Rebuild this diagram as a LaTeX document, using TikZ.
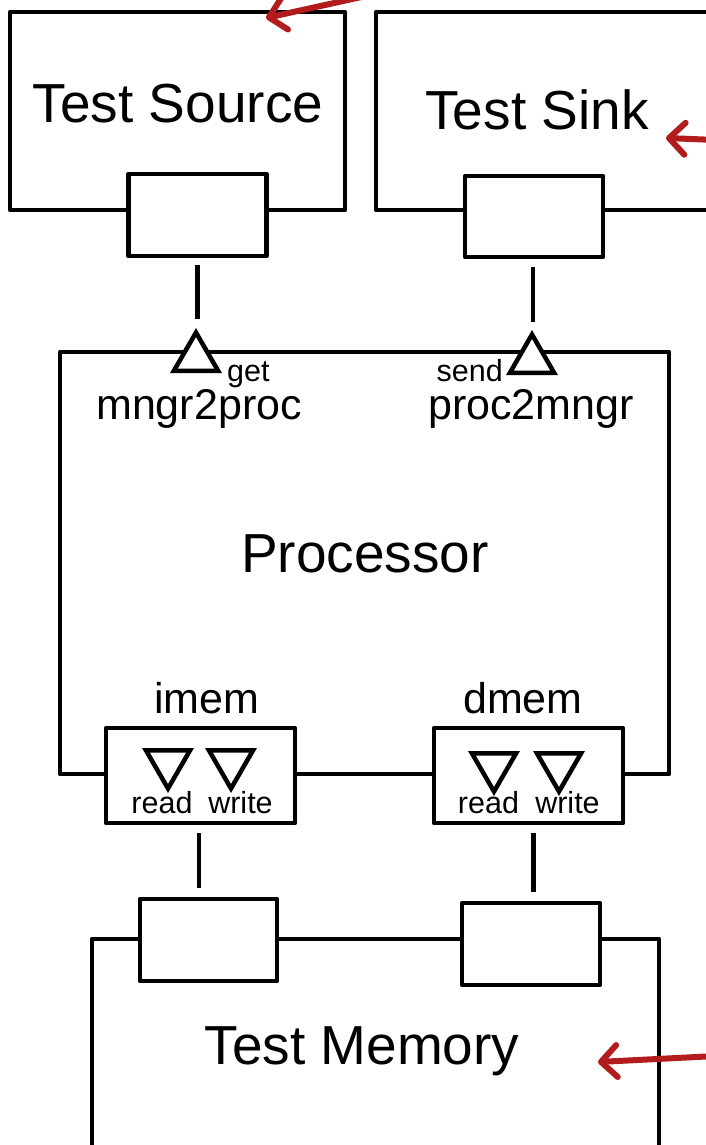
\documentclass[tikz,border=0pt]{standalone}
\usepackage{fontspec}
\setmainfont{Liberation Sans}
\usetikzlibrary{shapes.geometric,arrows.meta}
\definecolor{annot}{RGB}{178,28,28}
\begin{document}
\begin{tikzpicture}[x=1pt,y=-1pt,
  blk/.style={draw=black,line width=4.5pt,fill=white,rectangle,inner sep=0pt,outer sep=0pt,line join=round},
  tri/.style={draw=black,line width=4.5pt,fill=white,regular polygon,regular polygon sides=3,minimum size=51pt,inner sep=0pt,outer sep=0pt},
  tridown/.style={tri,shape border rotate=180},
  wire/.style={draw=black,line width=4.5pt},
  big/.style={font=\fontsize{55}{60}\selectfont,inner sep=0pt,anchor=base},
  mid/.style={font=\fontsize{43}{48}\selectfont,inner sep=0pt,anchor=base},
  small/.style={font=\fontsize{30.5}{34}\selectfont,inner sep=0pt,anchor=base},
  note/.style={draw=annot,line width=6pt,line cap=round,-{Straight Barb[length=16pt,width=32pt,round]}}]
\useasboundingbox (0,0) rectangle (706,1145);
\fill[white] (0,0) rectangle (706,1145);
\clip (0,0) rectangle (706,1145);

% Test source and sink
\node[blk,minimum width=335pt,minimum height=198pt] (src) at (177.5,111) {};
\node[big] (srclbl) at (178,123) {Test Source};
\node[blk,minimum width=138pt,minimum height=82pt] (srcp) at (197.5,215) {};

\node[blk,minimum width=370pt,minimum height=198pt] (sink) at (561,111) {};
\node[big] (sinklbl) at (537,130) {Test Sink};
\node[blk,minimum width=138pt,minimum height=81pt] (sinkp) at (534,216.5) {};

% Processor
\node[blk,minimum width=609pt,minimum height=422pt] (proc) at (364.5,563) {};
\node[big] (proclbl) at (365,572) {Processor};

\node[tri] (tget) at (196,358) {};
\node[tri] (tsend) at (532,360) {};
\node[small,anchor=base west] (getlbl) at (227,381) {get};
\node[small,anchor=base east] (sendlbl) at (503,381) {send};
\node[mid] (m2p) at (199,419) {mngr2proc};
\node[mid] (p2m) at (531,419) {proc2mngr};

\node[blk,minimum width=189pt,minimum height=95pt] (imem) at (200.5,775.5) {};
\node[blk,minimum width=189pt,minimum height=95pt] (dmem) at (528.5,775.5) {};
\node[mid] (imemlbl) at (207,713) {imem};
\node[mid] (dmemlbl) at (523,713) {dmem};

\node[tridown] (ir) at (168,763) {};
\node[tridown] (iw) at (231,763) {};
\node[tridown] (dr) at (494,766) {};
\node[tridown] (dw) at (559,766) {};
\node[small] (irl) at (162,813) {read};
\node[small] (iwl) at (240.5,813) {write};
\node[small] (drl) at (488.5,813) {read};
\node[small] (dwl) at (567.5,813) {write};

% Test memory
\node[blk,minimum width=567pt,minimum height=311pt] (mem) at (375.5,1094.5) {};
\node[blk,minimum width=137pt,minimum height=82pt] (memL) at (208.5,940) {};
\node[blk,minimum width=138pt,minimum height=82pt] (memR) at (531,944) {};
\node[big] (memlbl) at (362,1064) {Test Memory};

% connections
\draw[wire,shorten <=9pt,shorten >=14pt] (srcp.south) -- (srcp.south |- tget.north);
\draw[wire,shorten <=10pt,shorten >=13pt] ([xshift=-1pt]sinkp.south) -- ([xshift=-1pt]sinkp.south |- tsend.north);
\draw[wire,shorten <=10pt,shorten >=11pt] ([xshift=-1.5pt]imem.south) -- ([xshift=-1.5pt]imem.south |- memL.north);
\draw[wire,shorten <=10pt,shorten >=11pt] ([xshift=5pt]dmem.south) -- ([xshift=5pt]dmem.south |- memR.north);

% annotation arrows
\coordinate (a1s) at (375,-6);
\coordinate (a1t) at (266,18);
\coordinate (a2s) at (716,140);
\coordinate (a2t) at (666,138);
\coordinate (a3s) at (716,1056);
\coordinate (a3t) at (598,1062);
\draw[note] (a1s) -- (a1t);
\draw[note] (a2s) -- (a2t);
\draw[note] (a3s) -- (a3t);
\end{tikzpicture}
\end{document}
